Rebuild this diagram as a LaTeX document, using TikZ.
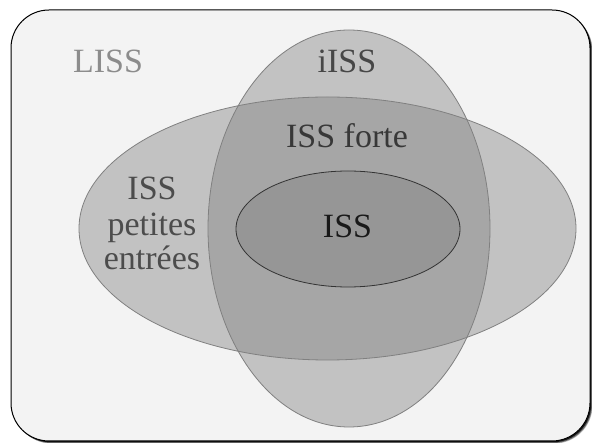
\documentclass[tikz,border=0pt]{standalone}
\usepackage{fontspec}
\setmainfont{Liberation Serif}
\begin{document}
\begin{tikzpicture}[x=1pt,y=-1pt,
  setellipse/.style={draw=black!50,line width=0.8pt,fill=black!50,fill opacity=0.42},
  lbl/.style={anchor=base,inner sep=0pt,font=\fontsize{34}{36}\selectfont},
  frame/.style={rounded corners=38pt}]
\useasboundingbox (0,0) rectangle (592,443);
% shadow
\fill[black,opacity=0.25,frame] (13.5,12.5) rectangle (592.5,443.5);
\fill[black,opacity=0.45,frame] (13,12) rectangle (592,443);
\fill[black,opacity=0.8,frame] (12.5,11.5) rectangle (591.2,442.2);
% frame
\draw[frame,fill={rgb,255:red,243;green,243;blue,243},line width=1pt] (11,10) rectangle (590,441);
% sets
\path[setellipse] (349,228.5) ellipse [x radius=141,y radius=198.5];
\path[setellipse] (327.5,228.5) ellipse [x radius=248.5,y radius=131.5];
\path[setellipse,draw=black!80] (348,229) ellipse [x radius=112,y radius=58];
% labels
\node[lbl,text={rgb,255:red,140;green,140;blue,140}] (liss) at (108,73) {LISS};
\node[lbl,text=black!72] (iiss) at (347,73) {iISS};
\node[lbl,text=black!78] (forte) at (347,148) {ISS forte};
\node[lbl,text=black!90] (iss) at (347.5,238) {ISS};
\node[lbl,text=black!70] (pe1) at (152,200) {ISS};
\node[lbl,text=black!70] (pe2) at (152,236) {petites};
\node[lbl,text=black!70] (pe3) at (152,270) {entrées};
\end{tikzpicture}
\end{document}
